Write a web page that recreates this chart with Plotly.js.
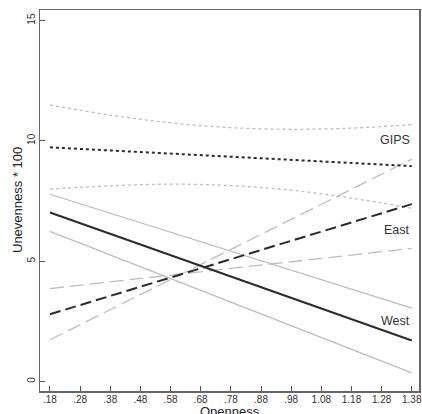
<!DOCTYPE html>
<html>
<head>
<meta charset="utf-8">
<script src="https://cdn.plot.ly/plotly-3.0.1.min.js"></script>
<style>
  html, body { margin: 0; padding: 0; background: #fff; }
  #chart { width: 422px; height: 414px; }
</style>
</head>
<body>
<div id="chart"></div>
<script>
// Predicted unevenness by openness, for three regions (with bands)
const lineX = [0.18, 1.38];

const westMid   = [7.02, 1.70];
const westUpper = [7.78, 3.05];
const westLower = [6.24, 0.35];

const eastMid   = [2.79, 7.37];
const eastFlat  = [3.86, 5.53];
const eastSteep = [1.73, 9.24];

const gipsMid   = [9.73, 8.95];
const gipsX     = [0.18, 0.38, 0.58, 0.78, 0.98, 1.18, 1.38];
const gipsUpper = [11.49, 11.07, 10.75, 10.55, 10.48, 10.53, 10.67];
const gipsLower = [7.99, 8.13, 8.20, 8.14, 7.95, 7.62, 7.20];

const tickVals = [0.18, 0.28, 0.38, 0.48, 0.58, 0.68, 0.78, 0.88, 0.98, 1.08, 1.18, 1.28, 1.38];
const tickText = ['.18', '.28', '.38', '.48', '.58', '.68', '.78', '.88', '.98', '1.08', '1.18', '1.28', '1.38'];
const yTicks = [0, 5, 10, 15];

const regionLabels = ['GIPS', 'East', 'West'];
const regionLabelY = [10.03, 6.28, 2.5];

const LIGHT = '#bdbdbd';
const DARK = '#2b2b2b';
const FONT = 'Liberation Sans, Arial, sans-serif';

function tr(x, y, color, width, dash, shape) {
  return {
    x: x, y: y, type: 'scatter', mode: 'lines',
    line: { color: color, width: width, dash: dash, shape: shape || 'linear' },
    hoverinfo: 'skip', showlegend: false
  };
}

const data = [
  tr(lineX, westUpper, LIGHT, 1.3, 'solid'),
  tr(lineX, westLower, LIGHT, 1.3, 'solid'),
  tr(lineX, eastFlat, LIGHT, 1.3, '14px,6px'),
  tr(lineX, eastSteep, LIGHT, 1.3, '14px,6px'),
  tr(gipsX, gipsUpper, LIGHT, 1.3, '3px,3px', 'spline'),
  tr(gipsX, gipsLower, LIGHT, 1.3, '3px,3px', 'spline'),
  tr(lineX, westMid, DARK, 2, 'solid'),
  tr(lineX, eastMid, DARK, 2, '11px,5px'),
  tr(lineX, gipsMid, DARK, 2, '3px,3px')
];

const annotations = regionLabels.map((t, i) => ({
  x: 1.381, y: regionLabelY[i], xref: 'x', yref: 'y',
  text: t, showarrow: false, xanchor: 'right', yanchor: 'middle',
  font: { family: FONT, size: 12.5, color: '#333' }
}));

// axis titles
annotations.push({
  xref: 'paper', yref: 'paper', x: 0.5, y: 0,
  text: 'Openness', showarrow: false, xanchor: 'center', yanchor: 'top',
  yshift: -11,
  font: { family: FONT, size: 13, color: '#222' }
});
annotations.push({
  xref: 'paper', yref: 'paper', x: 0, y: 0.5,
  text: 'Unevenness * 100', showarrow: false, textangle: -90,
  xanchor: 'right', yanchor: 'middle', xshift: -13,
  font: { family: FONT, size: 13, color: '#222' }
});

const layout = {
  width: 422, height: 414,
  margin: { l: 40, r: 3, t: 10, b: 23, pad: 0 },
  paper_bgcolor: '#fff', plot_bgcolor: '#fff',
  showlegend: false,
  xaxis: {
    range: [0.147, 1.404],
    tickmode: 'array', tickvals: tickVals, ticktext: tickText,
    ticks: 'inside', ticklen: 5, tickwidth: 1, tickcolor: '#555',
    ticklabelstandoff: -2,
    showline: true, mirror: true, linecolor: '#666', linewidth: 1.5,
    showgrid: false, zeroline: false,
    tickfont: { family: FONT, size: 10, color: '#333' }
  },
  yaxis: {
    range: [-0.40, 15.44],
    tickmode: 'array', tickvals: yTicks, ticktext: yTicks.map(String),
    ticks: 'inside', ticklen: 5, tickwidth: 1, tickcolor: '#555',
    tickangle: -90,
    showline: true, mirror: true, linecolor: '#666', linewidth: 1.5,
    showgrid: false, zeroline: false,
    tickfont: { family: FONT, size: 10, color: '#333' }
  },
  annotations: annotations
};

Plotly.newPlot('chart', data, layout, { displayModeBar: false, staticPlot: true });
</script>
</body>
</html>
